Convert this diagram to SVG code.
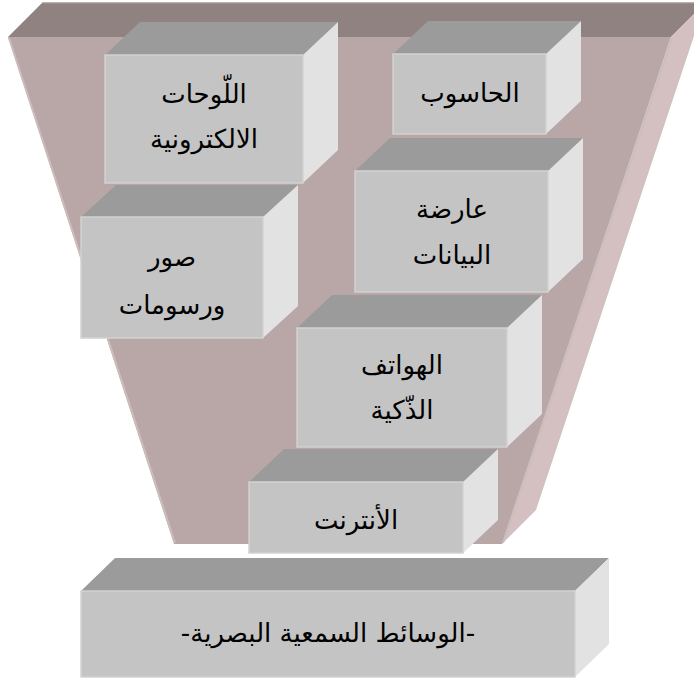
<svg xmlns="http://www.w3.org/2000/svg" width="694" height="682" viewBox="0 0 694 682">
<style>
.ftop{fill:#918282}
.ffront{fill:#b9a7a7}
.fside{fill:#d4c0c1}
.hl{fill:none;stroke:#cdbcbc;stroke-width:2}
.btop{fill:#9b9b9b}
.bfront{fill:#c4c4c4;stroke:#d2d2d2;stroke-width:1.5}
.bside{fill:#e2e2e2}
.t{font-family:"DejaVu Sans",sans-serif;font-size:26px;fill:#000;text-anchor:middle;direction:rtl}
</style>
<rect width="694" height="682" fill="#ffffff"/>
<g id="funnel">
<polygon class="ftop" points="8,37 42,3 705,3 671,37"/>
<polygon class="ffront" points="8,37 671,37 502,544 174,544"/>
<polygon class="fside" points="671,37 705,3 536,510 502,544"/>
<polyline class="hl" points="9,38 175,543"/>
<polyline class="hl" points="672,38 503,543"/>
<line x1="42" y1="3" x2="700" y2="3" stroke="#a39393" stroke-width="1.5"/>
</g>
<g id="connectors"></g>
<g id="node-computer">
<polygon class="btop" points="393,54 428,21 581,21 546,54"/>
<polygon class="bside" points="546,54 581,21 581,101 546,134"/>
<rect class="bfront" x="393" y="54" width="153" height="80"/>
<text class="t" x="470" y="102">الحاسوب</text>
</g>
<g id="node-boards">
<polygon class="btop" points="105,55 140,22 338,22 303,55"/>
<polygon class="bside" points="303,55 338,22 338,150 303,183"/>
<rect class="bfront" x="105" y="55" width="198" height="128"/>
<text class="t" x="204" y="103">اللّوحات</text>
<text class="t" x="204" y="148">الالكترونية</text>
</g>
<g id="node-projector">
<polygon class="btop" points="355,171 390,138 583,138 548,171"/>
<polygon class="bside" points="548,171 583,138 583,259 548,292"/>
<rect class="bfront" x="355" y="171" width="193" height="121"/>
<text class="t" x="452" y="218">عارضة</text>
<text class="t" x="452" y="264">البيانات</text>
</g>
<g id="node-images">
<polygon class="btop" points="81,217 116,185 298,185 263,217"/>
<polygon class="bside" points="263,217 298,185 298,306 263,338"/>
<rect class="bfront" x="81" y="217" width="182" height="121"/>
<text class="t" x="172" y="266">صور</text>
<text class="t" x="172" y="314">ورسومات</text>
</g>
<g id="node-phones">
<polygon class="btop" points="297,328 332,295 542,295 507,328"/>
<polygon class="bside" points="507,328 542,295 542,414 507,447"/>
<rect class="bfront" x="297" y="328" width="210" height="119"/>
<text class="t" x="402" y="374">الهواتف</text>
<text class="t" x="402" y="419">الذّكية</text>
</g>
<g id="node-internet">
<polygon class="btop" points="249,482 284,449 498,449 463,482"/>
<polygon class="bside" points="463,482 498,449 498,520 463,553"/>
<rect class="bfront" x="249" y="482" width="214" height="71"/>
<text class="t" x="356" y="529">الأنترنت</text>
</g>
<g id="node-media">
<polygon class="btop" points="81,591 115,558 609,558 575,591"/>
<polygon class="bside" points="575,591 609,558 609,644 575,677"/>
<rect class="bfront" x="81" y="591" width="494" height="86"/>
<text class="t" x="328" y="642">-الوسائط السمعية البصرية-</text>
</g>
</svg>
